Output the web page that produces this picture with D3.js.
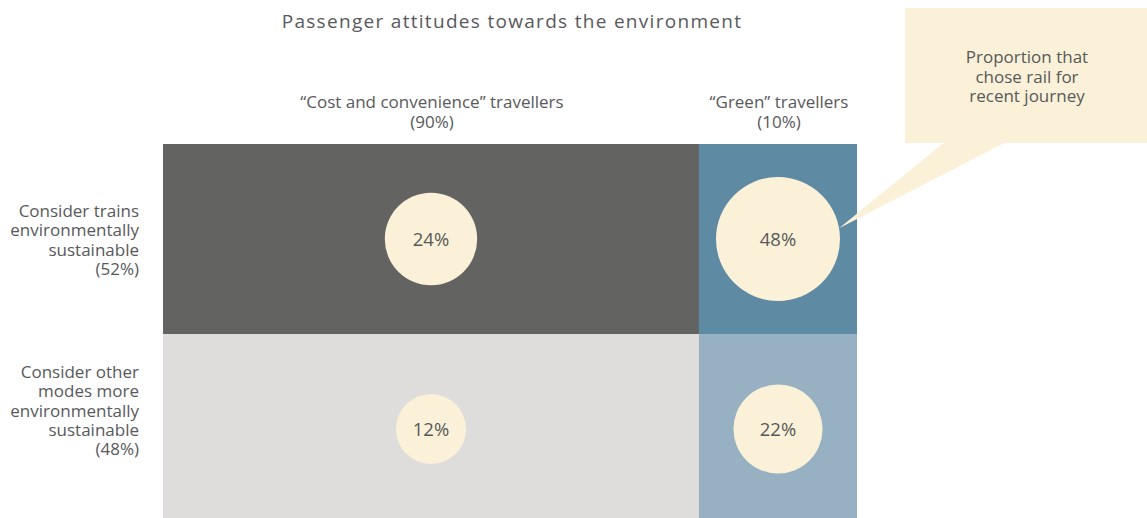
<!DOCTYPE html>
<html>
<head>
<meta charset="utf-8">
<script src="https://cdn.jsdelivr.net/npm/d3@7"></script>
<style>
  html, body { margin: 0; padding: 0; background: #fff; }
  svg { display: block; }
  text { font-family: "Open Sans", "Noto Sans", sans-serif; fill: #58595b; }
</style>
</head>
<body>
<svg id="chart" width="1147" height="518"></svg>
<script>
// ---- data ----
const title = "Passenger attitudes towards the environment";
const segments = ["“Cost and convenience” travellers", "“Green” travellers"];
const segmentShares = ["(90%)", "(10%)"];
const attitudes = ["trains", "other"];
const attitudeLabels = [
  ["Consider trains", "environmentally", "sustainable", "(52%)"],
  ["Consider other", "modes more", "environmentally", "sustainable", "(48%)"]
];
// share choosing rail for a recent journey, per attitude (row) and segment (column)
const railTrains = [24, 48];
const railOther = [12, 22];
const calloutLines = ["Proportion that", "chose rail for", "recent journey"];

// ---- layout ----
const gridLeft = 163, gridRight = 857, gridTop = 144, gridBottom = 524;
const colSplit = [0, 0.7723, 1];           // relative column edges
const cellFill = [["#636462", "#5e8aa4"], ["#dedddb", "#97b1c3"]];
const cream = "#fbf1d8";

const svg = d3.select("#chart");

const xRel = d3.scaleLinear().domain([0, 1]).range([gridLeft, gridRight]);
const y = d3.scaleBand().domain(attitudes).range([gridTop, gridBottom]).paddingInner(0);
const r = d3.scaleSqrt().domain([0, 48]).range([8, 62]);

const rowsData = [railTrains, railOther];
const cells = [];
attitudes.forEach((a, i) => {
  segments.forEach((s, j) => {
    cells.push({
      row: a, i, j,
      x0: xRel(colSplit[j]), x1: xRel(colSplit[j + 1]),
      value: rowsData[i][j],
      fill: cellFill[i][j]
    });
  });
});

// cells
svg.append("g").selectAll("rect").data(cells).join("rect")
  .attr("x", d => d.x0)
  .attr("y", d => y(d.row))
  .attr("width", d => d.x1 - d.x0)
  .attr("height", y.bandwidth())
  .attr("fill", d => d.fill);

// callout box with pointer to the green/trains circle
const target = cells.find(d => d.i === 0 && d.j === 1);
const tcx = (target.x0 + target.x1) / 2, tcy = y(target.row) + y.bandwidth() / 2;
const ang = -10 * Math.PI / 180;
const tip = [tcx + r(target.value) * Math.cos(ang), tcy + r(target.value) * Math.sin(ang)];
const box = { x: 905, y: 8, w: 250, h: 135 };
const callout = svg.append("g");
callout.append("path")
  .attr("d", d3.line()([[946, box.y + box.h - 2], [1008, box.y + box.h - 2], tip]) + "Z")
  .attr("fill", cream);
callout.append("rect")
  .attr("x", box.x).attr("y", box.y).attr("width", box.w).attr("height", box.h)
  .attr("fill", cream);
callout.append("text")
  .attr("text-anchor", "middle")
  .style("font-size", "17px")
  .selectAll("tspan").data(calloutLines).join("tspan")
  .attr("x", 1027)
  .attr("y", (d, k) => 63 + k * 19.5)
  .text(d => d);

// circles + value labels
const bubbles = svg.append("g").selectAll("g").data(cells).join("g")
  .attr("transform", d => `translate(${(d.x0 + d.x1) / 2},${y(d.row) + y.bandwidth() / 2})`);
bubbles.append("circle").attr("r", d => r(d.value)).attr("fill", cream);
bubbles.append("text")
  .attr("text-anchor", "middle")
  .attr("dy", "0.36em")
  .style("font-size", "18.5px")
  .text(d => d.value + "%");

// title
svg.append("text")
  .attr("x", 512).attr("y", 28)
  .attr("text-anchor", "middle")
  .style("font-size", "19px")
  .style("letter-spacing", "1.3px")
  .text(title);

// column headers
const headers = svg.append("g").selectAll("text").data(segments).join("text")
  .attr("text-anchor", "middle")
  .style("font-size", "17px");
headers.each(function (d, j) {
  const cx = (xRel(colSplit[j]) + xRel(colSplit[j + 1])) / 2;
  const t = d3.select(this);
  t.append("tspan").attr("x", cx + 1).attr("y", 108).text(d);
  t.append("tspan").attr("x", cx + 1).attr("y", 128).text(segmentShares[j]);
});

// row labels
const rowFirstBaseline = [217, 378];
svg.append("g").selectAll("text").data(attitudeLabels).join("text")
  .attr("text-anchor", "end")
  .style("font-size", "17px")
  .each(function (lines, i) {
    d3.select(this).selectAll("tspan").data(lines).join("tspan")
      .attr("x", 139)
      .attr("y", (d, k) => rowFirstBaseline[i] + k * 19.3)
      .text(d => d);
  });
</script>
</body>
</html>
